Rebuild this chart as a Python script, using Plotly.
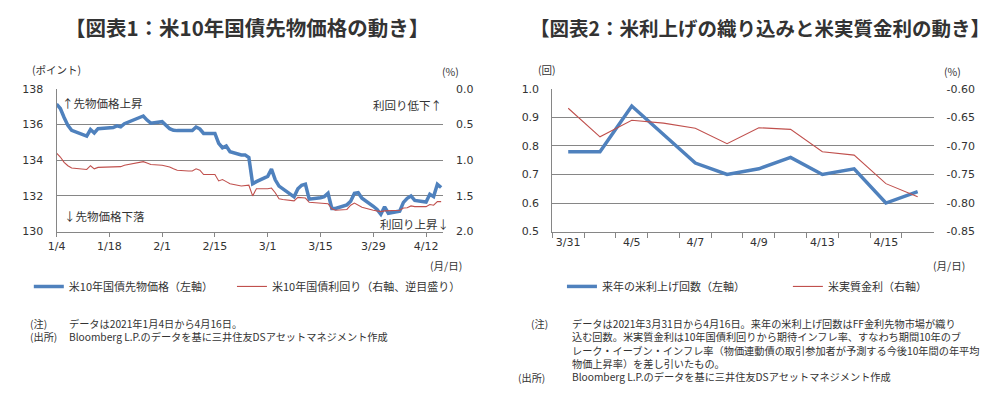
import plotly.graph_objects as go

W, H = 994, 394


def px(x):
    return x / W


def py(y):
    return 1 - y / H


# ---------------- Data: chart 1 ----------------
dates1 = [
    "2021-01-04", "2021-01-05", "2021-01-06", "2021-01-07", "2021-01-08",
    "2021-01-11", "2021-01-12", "2021-01-13", "2021-01-14", "2021-01-15",
    "2021-01-18", "2021-01-19", "2021-01-20", "2021-01-21", "2021-01-22",
    "2021-01-25", "2021-01-26", "2021-01-27", "2021-01-28", "2021-01-29",
    "2021-02-01", "2021-02-02", "2021-02-03", "2021-02-04", "2021-02-05",
    "2021-02-08", "2021-02-09", "2021-02-10", "2021-02-11", "2021-02-12",
    "2021-02-15", "2021-02-16", "2021-02-17", "2021-02-18", "2021-02-19",
    "2021-02-22", "2021-02-23", "2021-02-24", "2021-02-25", "2021-02-26",
    "2021-03-01", "2021-03-02", "2021-03-03", "2021-03-04", "2021-03-05",
    "2021-03-08", "2021-03-09", "2021-03-10", "2021-03-11", "2021-03-12",
    "2021-03-15", "2021-03-16", "2021-03-17", "2021-03-18", "2021-03-19",
    "2021-03-22", "2021-03-23", "2021-03-24", "2021-03-25", "2021-03-26",
    "2021-03-29", "2021-03-30", "2021-03-31", "2021-04-01", "2021-04-02",
    "2021-04-05", "2021-04-06", "2021-04-07", "2021-04-08", "2021-04-09",
    "2021-04-12", "2021-04-13", "2021-04-14", "2021-04-15", "2021-04-16",
]
futures_price = [
    137.15, 136.90, 136.40, 135.95, 135.68,
    135.45, 135.35, 135.72, 135.53, 135.77,
    135.80, 135.83, 135.93, 135.87, 136.05,
    136.28, 136.36, 136.48, 136.25, 136.08,
    136.16, 135.98, 135.77, 135.68, 135.66,
    135.66, 135.66, 135.86, 135.75, 135.50,
    135.50, 134.95, 134.70, 134.80, 134.48,
    134.30, 134.30, 134.15, 132.68, 132.80,
    133.10, 133.50, 132.90, 132.55, 132.40,
    131.95, 132.40, 132.60, 132.66, 131.82,
    131.90, 131.96, 132.15, 131.30, 131.30,
    131.50, 131.70, 132.14, 132.18, 131.87,
    131.42, 131.24, 130.97, 131.39, 131.03,
    131.15, 131.64, 131.87, 132.00, 131.75,
    131.66, 132.09, 131.96, 132.65, 132.47,
]
yield_10y = [
    0.900, 0.955, 1.030, 1.077, 1.108,
    1.120, 1.130, 1.077, 1.120, 1.100,
    1.100, 1.100, 1.090, 1.090, 1.070,
    1.040, 1.030, 1.020, 1.040, 1.060,
    1.070, 1.080, 1.095, 1.120, 1.140,
    1.150, 1.150, 1.120, 1.140, 1.200,
    1.200, 1.290, 1.270, 1.300, 1.330,
    1.360, 1.350, 1.350, 1.500, 1.400,
    1.400, 1.390, 1.455, 1.540, 1.550,
    1.570, 1.520, 1.520, 1.530, 1.590,
    1.600, 1.600, 1.610, 1.680, 1.700,
    1.690, 1.630, 1.600, 1.630, 1.660,
    1.700, 1.710, 1.720, 1.710, 1.710,
    1.700, 1.670, 1.665, 1.640, 1.650,
    1.650, 1.620, 1.630, 1.580, 1.580,
]
x1_tickvals = ["2021-01-04", "2021-01-18", "2021-02-01", "2021-02-15",
               "2021-03-01", "2021-03-15", "2021-03-29", "2021-04-12"]
x1_ticktext = ["1/4", "1/18", "2/1", "2/15", "3/1", "3/15", "3/29", "4/12"]

# ---------------- Data: chart 2 ----------------
dates2 = ["3/31", "4/1", "4/5", "4/6", "4/7", "4/8", "4/9",
          "4/12", "4/13", "4/14", "4/15", "4/16"]
dates2_labels = ["3/31", "", "4/5", "", "4/7", "", "4/9",
                 "", "4/13", "", "4/15", ""]
hike_count = [0.78, 0.78, 0.94, 0.84, 0.74, 0.70, 0.72,
              0.76, 0.70, 0.72, 0.60, 0.64]
real_rate = [-0.634, -0.684, -0.655, -0.660, -0.669, -0.696, -0.668,
             -0.671, -0.710, -0.716, -0.766, -0.789]
rr_tickvals = [-0.85, -0.80, -0.75, -0.70, -0.65, -0.60]
rr_ticktext = ["-0.85", "-0.80", "-0.75", "-0.70", "-0.65", "-0.60"]

BLUE = "#4F81BD"
RED = "#C0504D"
GRID = "#868686"
TXT = "#333333"
JP = "Noto Sans CJK JP"
NUM = "DejaVu Sans"

fig = go.Figure()

fig.add_trace(go.Scatter(
    x=dates1, y=futures_price, mode="lines", name="米10年国債先物価格（左軸）",
    line=dict(color=BLUE, width=3.5), xaxis="x", yaxis="y", legend="legend"))
fig.add_trace(go.Scatter(
    x=dates1, y=yield_10y, mode="lines", name="米10年国債利回り（右軸、逆目盛り）",
    line=dict(color=RED, width=1.1), xaxis="x", yaxis="y2", legend="legend2"))
fig.add_trace(go.Scatter(
    x=dates2, y=hike_count, mode="lines", name="来年の米利上げ回数（左軸）",
    line=dict(color=BLUE, width=3.5), xaxis="x2", yaxis="y3", legend="legend3"))
fig.add_trace(go.Scatter(
    x=dates2, y=real_rate, mode="lines", name="米実質金利（右軸）",
    line=dict(color=RED, width=1.1), xaxis="x2", yaxis="y4", legend="legend4"))

tickfont = dict(family=NUM, size=11, color=TXT)
ydom = [py(233.3), py(85.7)]

fig.update_layout(
    width=W, height=H,
    margin=dict(l=0, r=0, t=0, b=0),
    paper_bgcolor="white", plot_bgcolor="white",
    xaxis=dict(domain=[px(48), px(438)], anchor="y", type="date",
               range=["2021-01-04", "2021-04-16 12:00"],
               tickmode="array", tickvals=x1_tickvals, ticktext=x1_ticktext,
               ticks="outside", ticklen=4, tickcolor=GRID, tickangle=0,
               showline=True, linecolor=GRID, linewidth=1,
               showgrid=False, zeroline=False, tickfont=tickfont),
    yaxis=dict(domain=ydom, anchor="x", range=[130, 138], dtick=2, tick0=130,
               showgrid=True, gridcolor=GRID, gridwidth=1,
               showline=True, linecolor=GRID, ticks="", zeroline=False,
               ticklabelstandoff=10, tickfont=tickfont),
    yaxis2=dict(overlaying="y", anchor="x", side="right", range=[2.0, 0.0],
                dtick=0.5, tick0=0, tickformat=".1f", showgrid=False,
                showline=False, ticks="", zeroline=False,
                ticklabelstandoff=12, tickfont=tickfont),
    xaxis2=dict(domain=[px(548.3), px(933)], anchor="y3", type="category",
                categoryorder="array", categoryarray=dates2,
                range=[-0.5, 11.5], tickmode="array", tickvals=dates2,
                ticktext=dates2_labels, tickson="boundaries", tickangle=0,
                ticks="outside", ticklen=5, tickcolor=GRID,
                showline=True, linecolor=GRID, showgrid=False,
                zeroline=False, tickfont=tickfont),
    yaxis3=dict(domain=ydom, anchor="x2", range=[0.5, 1.0], dtick=0.1,
                tick0=0.5, tickformat=".1f",
                showgrid=True, gridcolor=GRID, gridwidth=1,
                showline=True, linecolor=GRID, ticks="", zeroline=False,
                ticklabelstandoff=10, tickfont=tickfont),
    yaxis4=dict(overlaying="y3", anchor="x2", side="right",
                range=[-0.85, -0.60], tickmode="array",
                tickvals=rr_tickvals, ticktext=rr_ticktext,
                showgrid=False, showline=False, ticks="", zeroline=False,
                ticklabelstandoff=12, tickfont=tickfont),
    showlegend=True,
)

legfont = dict(family=JP, size=11, color=TXT)
for name, xpos in [("legend", 20), ("legend2", 225), ("legend3", 558), ("legend4", 786)]:
    fig.update_layout({name: dict(x=px(xpos), y=py(290), xanchor="left",
                                  yanchor="middle", orientation="h",
                                  bgcolor="rgba(0,0,0,0)", font=legfont,
                                  itemwidth=30)})

ann = []
# titles
ann.append(dict(text="<b>【図表1：米10年国債先物価格の動き】</b>", x=px(240), y=py(22),
                font=dict(family=JP, size=20.5, color=TXT)))
ann.append(dict(text="<b>【図表2：米利上げの織り込みと米実質金利の動き】</b>", x=px(758), y=py(22),
                font=dict(family=JP, size=19.5, color=TXT)))
# unit labels
small = dict(family=JP, size=10.5, color=TXT)
ann.append(dict(text="(ポイント)", x=px(23), y=py(66), xanchor="left", font=small))
ann.append(dict(text="(%)", x=px(437), y=py(68), xanchor="left", font=small))
ann.append(dict(text="(月/日)", x=px(457), y=py(268), xanchor="right", font=small))
ann.append(dict(text="(回)", x=px(534), y=py(66), xanchor="left", font=small))
ann.append(dict(text="(%)", x=px(944), y=py(68), xanchor="left", font=small))
ann.append(dict(text="(月/日)", x=px(965), y=py(268), xanchor="right", font=small))
# in-chart notes
inner = dict(family=JP, size=11.5, color=TXT)
ann.append(dict(text="↑先物価格上昇", x=px(53), y=py(100), xanchor="left", font=inner))
ann.append(dict(text="↓先物価格下落", x=px(55), y=py(217), xanchor="left", font=inner))
ann.append(dict(text="利回り低下↑", x=px(437), y=py(102), xanchor="right", font=inner))
ann.append(dict(text="利回り上昇↓", x=px(444), y=py(225), xanchor="right", font=inner))

# footnotes
left_note_labels = ["(注)", "(出所)"]
left_note_lines = [
    "データは2021年1月4日から4月16日。",
    "Bloomberg L.P.のデータを基に三井住友DSアセットマネジメント作成",
]
right_note_lines = [
    "データは2021年3月31日から4月16日。来年の米利上げ回数はFF金利先物市場が織り",
    "込む回数。米実質金利は10年国債利回りから期待インフレ率、すなわち期間10年のブ",
    "レーク・イーブン・インフレ率（物価連動債の取引参加者が予測する今後10年間の年平均",
    "物価上昇率）を差し引いたもの。",
    "Bloomberg L.P.のデータを基に三井住友DSアセットマネジメント作成",
]
foot = dict(family=JP, size=10.2, color=TXT)
LINE = 1.3 * 10.2
ann.append(dict(text="<br>".join(left_note_labels), x=px(21), y=py(321),
                xanchor="left", yanchor="top", align="left", font=foot))
ann.append(dict(text="<br>".join(left_note_lines), x=px(61), y=py(321),
                xanchor="left", yanchor="top", align="left", font=foot))
ann.append(dict(text="(注)", x=px(527), y=py(321), xanchor="left",
                yanchor="top", font=foot))
ann.append(dict(text="(出所)", x=px(514), y=py(323 + 4 * LINE), xanchor="left",
                yanchor="top", font=foot))
ann.append(dict(text="<br>".join(right_note_lines), x=px(568), y=py(320.5),
                xanchor="left", yanchor="top", align="left", font=foot))

for a in ann:
    a.setdefault("xref", "paper")
    a.setdefault("yref", "paper")
    a.setdefault("showarrow", False)
    a.setdefault("xanchor", "center")
    a.setdefault("yanchor", "middle")
    a.setdefault("borderpad", 0)
    a.setdefault("borderwidth", 0)
fig.update_layout(annotations=ann)

fig.write_html("out.html", config={"displayModeBar": False},
               post_script="document.body.style.margin='0px';")
